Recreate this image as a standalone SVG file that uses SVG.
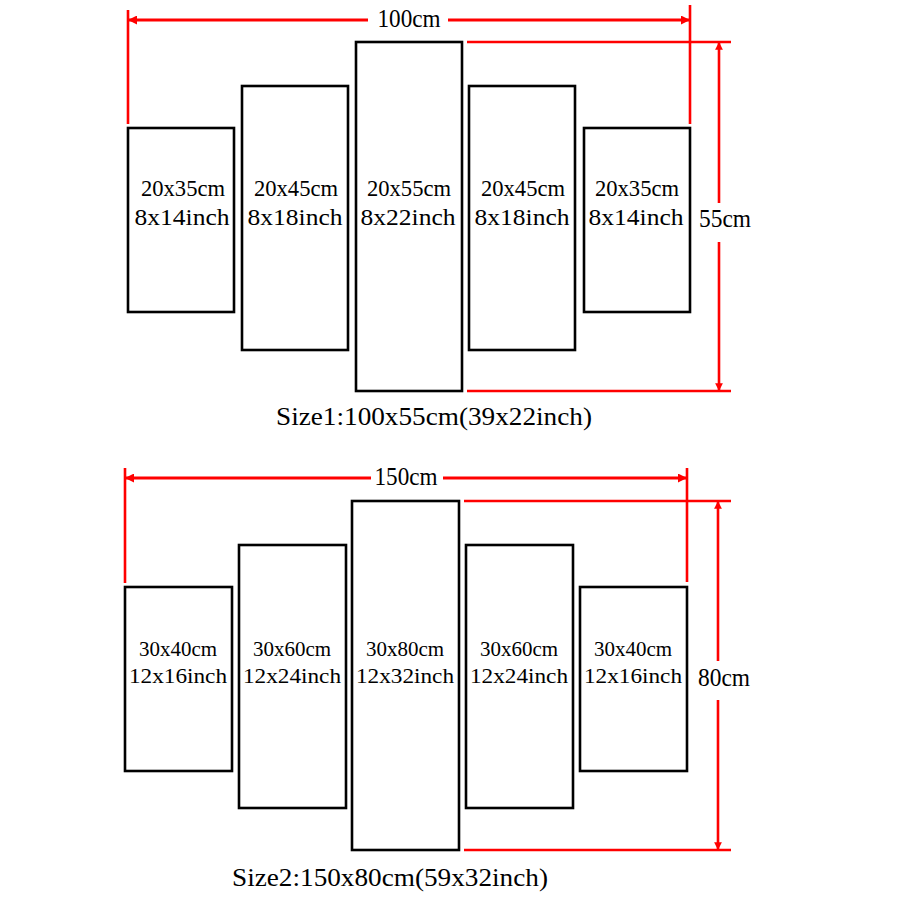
<svg xmlns="http://www.w3.org/2000/svg" width="900" height="900" viewBox="0 0 900 900">
<style>
.panel{fill:#fff;stroke:#000;stroke-width:2.6}
.dim{stroke:#f00;stroke-width:3;fill:none}
.tick{stroke:#f00;stroke-width:2.6;fill:none}
text{font-family:"Liberation Serif","DejaVu Serif",serif;fill:#000;text-anchor:middle}
.lbl{font-size:23px}
.lbl2{font-size:21px}
.big{font-size:26px}
</style>
<defs>
<marker id="ah" viewBox="0 0 10 10" refX="10" refY="5" markerWidth="3" markerHeight="3" orient="auto-start-reverse" markerUnits="strokeWidth">
<path d="M0,0 L10,5 L0,10 Z" fill="#f00"/>
</marker>
</defs>
<rect width="900" height="900" fill="#fff"/>

<g id="connectors">
<line class="tick" x1="128" y1="10" x2="128" y2="124"/>
<line class="tick" x1="690" y1="5" x2="690" y2="124"/>
<line class="dim" x1="128" y1="20" x2="368" y2="20" marker-start="url(#ah)"/>
<line class="dim" x1="448" y1="20" x2="690" y2="20" marker-end="url(#ah)"/>
<line class="tick" x1="467" y1="42" x2="731" y2="42"/>
<line class="tick" x1="467" y1="391" x2="731" y2="391"/>
<line class="tick" x1="719" y1="42" x2="719" y2="203" marker-start="url(#ah)"/>
<line class="tick" x1="719" y1="242" x2="719" y2="391" marker-end="url(#ah)"/>
<line class="tick" x1="125" y1="468" x2="125" y2="583"/>
<line class="tick" x1="687" y1="468" x2="687" y2="582"/>
<line class="dim" x1="125" y1="478" x2="371" y2="478" marker-start="url(#ah)"/>
<line class="dim" x1="443" y1="478" x2="687" y2="478" marker-end="url(#ah)"/>
<line class="tick" x1="464" y1="501" x2="731" y2="501"/>
<line class="tick" x1="464" y1="850" x2="731" y2="850"/>
<line class="tick" x1="718" y1="501" x2="718" y2="661" marker-start="url(#ah)"/>
<line class="tick" x1="718" y1="700" x2="718" y2="850" marker-end="url(#ah)"/>
</g>

<g id="dimension-labels">
<text class="big" x="409" y="27" textLength="63" lengthAdjust="spacingAndGlyphs">100cm</text>
<text class="big" x="725" y="227" textLength="52" lengthAdjust="spacingAndGlyphs">55cm</text>
<text class="big" x="406" y="485" textLength="63" lengthAdjust="spacingAndGlyphs">150cm</text>
<text class="big" x="724" y="686" textLength="52" lengthAdjust="spacingAndGlyphs">80cm</text>
<text class="big" x="434" y="425" textLength="316" lengthAdjust="spacingAndGlyphs">Size1:100x55cm(39x22inch)</text>
<text class="big" x="390" y="886" textLength="316" lengthAdjust="spacingAndGlyphs">Size2:150x80cm(59x32inch)</text>
</g>

<g id="s1-p1">
<rect class="panel" x="128" y="128" width="106" height="184"/>
<text class="lbl" x="183" y="196" textLength="84" lengthAdjust="spacingAndGlyphs">20x35cm</text>
<text class="lbl" x="182" y="225" textLength="95" lengthAdjust="spacingAndGlyphs">8x14inch</text>
</g>
<g id="s1-p2">
<rect class="panel" x="242" y="86" width="106" height="264"/>
<text class="lbl" x="296" y="196" textLength="84" lengthAdjust="spacingAndGlyphs">20x45cm</text>
<text class="lbl" x="295" y="225" textLength="95" lengthAdjust="spacingAndGlyphs">8x18inch</text>
</g>
<g id="s1-p3">
<rect class="panel" x="356" y="42" width="106" height="349"/>
<text class="lbl" x="409" y="196" textLength="84" lengthAdjust="spacingAndGlyphs">20x55cm</text>
<text class="lbl" x="408" y="225" textLength="95" lengthAdjust="spacingAndGlyphs">8x22inch</text>
</g>
<g id="s1-p4">
<rect class="panel" x="469" y="86" width="106" height="264"/>
<text class="lbl" x="523" y="196" textLength="84" lengthAdjust="spacingAndGlyphs">20x45cm</text>
<text class="lbl" x="522" y="225" textLength="95" lengthAdjust="spacingAndGlyphs">8x18inch</text>
</g>
<g id="s1-p5">
<rect class="panel" x="584" y="128" width="106" height="184"/>
<text class="lbl" x="637" y="196" textLength="84" lengthAdjust="spacingAndGlyphs">20x35cm</text>
<text class="lbl" x="636" y="225" textLength="95" lengthAdjust="spacingAndGlyphs">8x14inch</text>
</g>

<g id="s2-p1">
<rect class="panel" x="125" y="587" width="107" height="184"/>
<text class="lbl2" x="178" y="656" textLength="78" lengthAdjust="spacingAndGlyphs">30x40cm</text>
<text class="lbl2" x="178" y="683" textLength="98" lengthAdjust="spacingAndGlyphs">12x16inch</text>
</g>
<g id="s2-p2">
<rect class="panel" x="239" y="545" width="107" height="263"/>
<text class="lbl2" x="292" y="656" textLength="78" lengthAdjust="spacingAndGlyphs">30x60cm</text>
<text class="lbl2" x="292" y="683" textLength="98" lengthAdjust="spacingAndGlyphs">12x24inch</text>
</g>
<g id="s2-p3">
<rect class="panel" x="352" y="501" width="107" height="349"/>
<text class="lbl2" x="405" y="656" textLength="78" lengthAdjust="spacingAndGlyphs">30x80cm</text>
<text class="lbl2" x="405" y="683" textLength="98" lengthAdjust="spacingAndGlyphs">12x32inch</text>
</g>
<g id="s2-p4">
<rect class="panel" x="466" y="545" width="107" height="263"/>
<text class="lbl2" x="519" y="656" textLength="78" lengthAdjust="spacingAndGlyphs">30x60cm</text>
<text class="lbl2" x="519" y="683" textLength="98" lengthAdjust="spacingAndGlyphs">12x24inch</text>
</g>
<g id="s2-p5">
<rect class="panel" x="580" y="587" width="107" height="184"/>
<text class="lbl2" x="633" y="656" textLength="78" lengthAdjust="spacingAndGlyphs">30x40cm</text>
<text class="lbl2" x="633" y="683" textLength="98" lengthAdjust="spacingAndGlyphs">12x16inch</text>
</g>
</svg>
